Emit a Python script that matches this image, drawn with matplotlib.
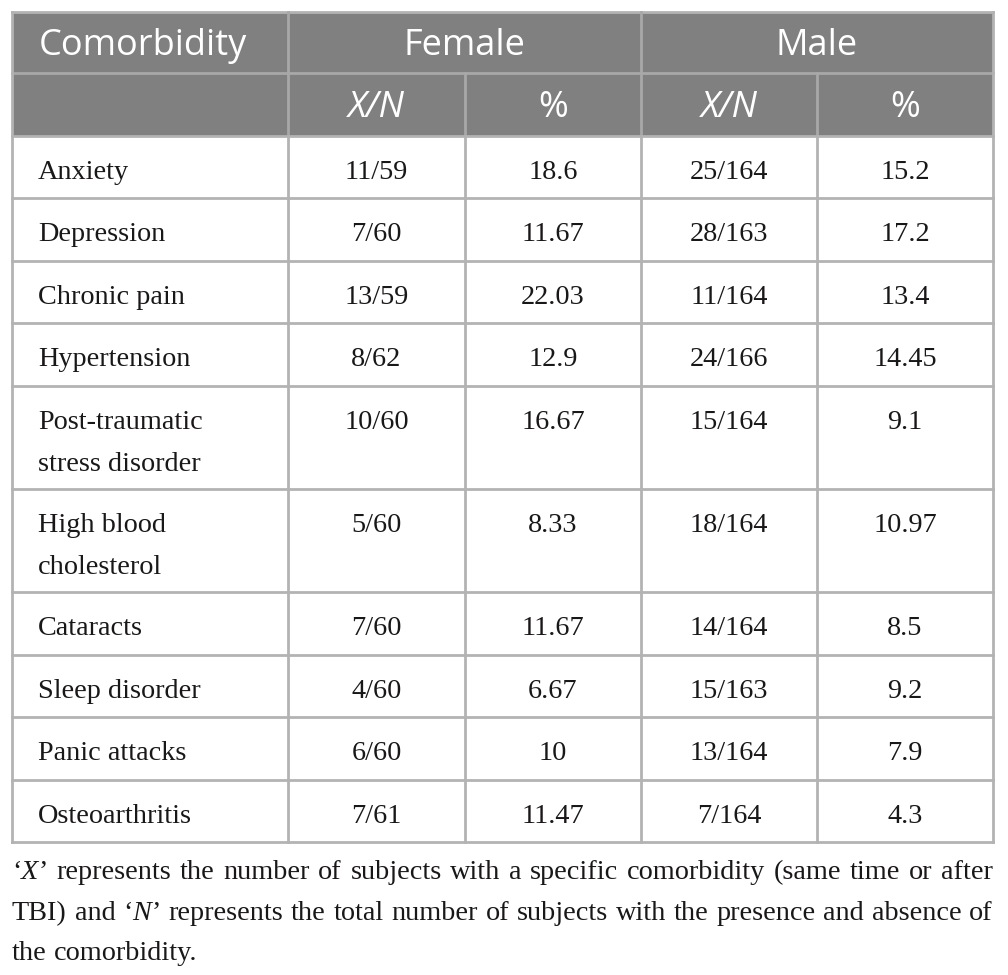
import matplotlib
matplotlib.use("Agg")
import matplotlib.pyplot as plt
from matplotlib.patches import Rectangle

# Table data
comorbidities = ["Anxiety", "Depression", "Chronic pain", "Hypertension",
                 "Post-traumatic\nstress disorder", "High blood\ncholesterol",
                 "Cataracts", "Sleep disorder", "Panic attacks", "Osteoarthritis"]
female_xn = ["11/59", "7/60", "13/59", "8/62", "10/60", "5/60", "7/60", "4/60", "6/60", "7/61"]
female_pct = ["18.6", "11.67", "22.03", "12.9", "16.67", "8.33", "11.67", "6.67", "10", "11.47"]
male_xn = ["25/164", "28/163", "11/164", "24/166", "15/164", "18/164", "14/164", "15/163", "13/164", "7/164"]
male_pct = ["15.2", "17.2", "13.4", "14.45", "9.1", "10.97", "8.5", "9.2", "7.9", "4.3"]

caption_lines = [
    [[("‘", "normal"), ("X", "italic"), ("’", "normal")], "represents", "the", "number", "of",
     "subjects", "with", "a", "specific", "comorbidity", "(same", "time", "or", "after"],
    ["TBI)", "and", [("‘", "normal"), ("N", "italic"), ("’", "normal")], "represents", "the",
     "total", "number", "of", "subjects", "with", "the", "presence", "and", "absence", "of"],
    ["the", "comorbidity."],
]

W, H = 1008, 975
fig = plt.figure(figsize=(W / 100, H / 100), dpi=100)
ax = fig.add_axes([0, 0, 1, 1])
ax.set_xlim(0, W)
ax.set_ylim(H, 0)
ax.axis("off")

cols = [12, 288, 465, 641, 817, 993]
hdr = [12, 73, 136]
rows = [136, 198, 261, 323, 386, 489, 592, 655, 717, 780, 842]
grid_c = "#b3b3b3"
head_c = "#808080"
head_line = "#a8a8a8"
serif = "Liberation Serif"
sans = "Open Sans"
ink = "#1a1718"
body_fs = 20.3
head_fs = 26

# header background
ax.add_patch(Rectangle((cols[0], hdr[0]), cols[-1] - cols[0], hdr[2] - hdr[0],
                       facecolor=head_c, edgecolor="none"))

# grid lines
lw = 2.0
ax.plot([cols[0], cols[-1]], [hdr[0], hdr[0]], color=grid_c, lw=lw)
ax.plot([cols[0], cols[-1]], [hdr[1], hdr[1]], color=head_line, lw=lw)
for y in rows:
    ax.plot([cols[0], cols[-1]], [y, y], color=grid_c, lw=lw)
for i, x in enumerate(cols):
    if i in (0, 5):
        ax.plot([x, x], [hdr[0], rows[-1]], color=grid_c, lw=lw)
    elif i in (2, 4):
        ax.plot([x, x], [hdr[1], hdr[2]], color=head_line, lw=lw)
        ax.plot([x, x], [hdr[2], rows[-1]], color=grid_c, lw=lw)
    else:
        ax.plot([x, x], [hdr[0], hdr[2]], color=head_line, lw=lw)
        ax.plot([x, x], [hdr[2], rows[-1]], color=grid_c, lw=lw)

# header text
ax.text(39, 55, "Comorbidity", family=sans, fontsize=head_fs, color="white", va="baseline")
ax.text((cols[1] + cols[3]) / 2, 55, "Female", family=sans, fontsize=head_fs,
        color="white", ha="center", va="baseline")
ax.text((cols[3] + cols[5]) / 2, 55, "Male", family=sans, fontsize=head_fs,
        color="white", ha="center", va="baseline")
for j in range(4):
    cx = (cols[j + 1] + cols[j + 2]) / 2
    if j % 2 == 0:
        ax.text(cx, 117, "X/N", family=sans, style="italic", fontsize=head_fs,
                color="white", ha="center", va="baseline")
    else:
        ax.text(cx, 117, "%", family=sans, fontsize=head_fs,
                color="white", ha="center", va="baseline")

# body
for i, name in enumerate(comorbidities):
    base = rows[i] + 43
    for k, line in enumerate(name.split("\n")):
        ax.text(38, base + 42 * k, line, family=serif, fontsize=body_fs,
                color=ink, va="baseline")
    vals = [female_xn[i], female_pct[i], male_xn[i], male_pct[i]]
    for j, v in enumerate(vals):
        cx = (cols[j + 1] + cols[j + 2]) / 2
        ax.text(cx, base, v, family=serif, fontsize=body_fs, color=ink,
                ha="center", va="baseline")

# caption, justified
fig.canvas.draw()
renderer = fig.canvas.get_renderer()


def make_word(word, x, y):
    pieces = [(word, "normal")] if isinstance(word, str) else word
    objs = []
    cx = x
    for txt, st in pieces:
        t = ax.text(cx, y, txt, family=serif, style=st, fontsize=body_fs,
                    color=ink, va="baseline")
        w = t.get_window_extent(renderer).width
        objs.append((t, w))
        cx += w
    return objs, cx - x


cap_base = [879, 920, 960]
left, right = cols[0], cols[-1]
for li, line in enumerate(caption_lines):
    words = [make_word(w, 0, cap_base[li]) for w in line]
    total = sum(w for _, w in words)
    if li < len(caption_lines) - 1:
        gap = (right - left - total) / (len(words) - 1)
    else:
        gap = 7
    x = left
    for objs, wdt in words:
        cx = x
        for t, w in objs:
            t.set_x(cx)
            cx += w
        x += wdt + gap

fig.savefig("out.png", dpi=100)
